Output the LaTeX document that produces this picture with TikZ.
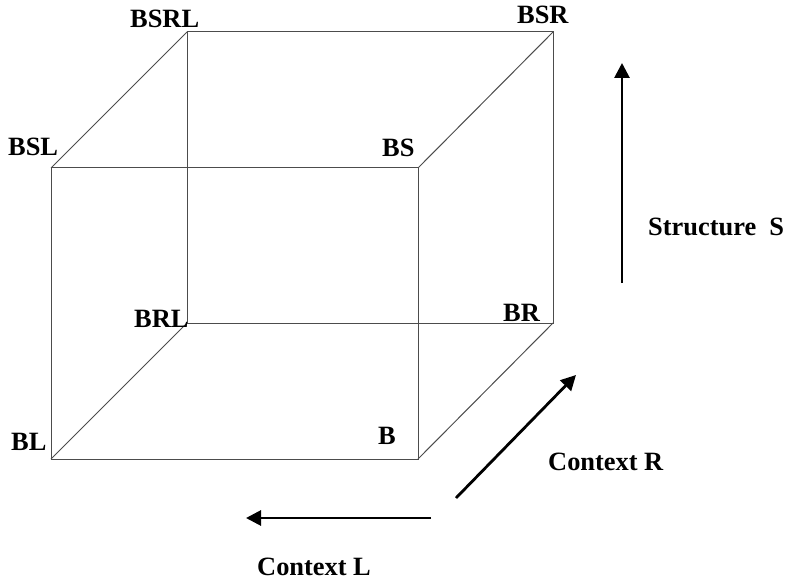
\documentclass[tikz,border=0pt]{standalone}
\usepackage{fontspec}
\setmainfont{Liberation Serif}
\usetikzlibrary{arrows.meta}
\begin{document}
\begin{tikzpicture}[x=1pt,y=-1pt,
  edge/.style={draw=black!70,line width=1pt},
  lbl/.style={anchor=base west,inner sep=0pt,font=\fontsize{26.4}{30}\selectfont\bfseries},
  axis/.style={line width=2.8pt,-{Triangle[length=15pt,width=15pt]}}]
\useasboundingbox (0,0) rectangle (785,583);
% cube corners
\coordinate (bsrl) at (187,32);
\coordinate (bsr)  at (553,32);
\coordinate (bsl)  at (51,168);
\coordinate (bs)   at (418,168);
\coordinate (brl)  at (187,323);
\coordinate (br)   at (553,323);
\coordinate (bl)   at (51,459);
\coordinate (b)    at (418,459);
% back face
\draw[edge] (bsrl) -- (bsr) -- (br) -- (brl) -- cycle;
% front face
\draw[edge] (bsl) -- (bs) -- (b) -- (bl) -- cycle;
% depth edges
\draw[edge] (bsl) -- (bsrl);
\draw[edge] (bs) -- (bsr);
\draw[edge] (bl) -- (brl);
\draw[edge] (b) -- (br);
% labels
\node[lbl] (tBSRL) at (130,28) {BSRL};
\node[lbl] (tBSR)  at (517,24) {BSR};
\node[lbl] (tBSL)  at (8,156)  {BSL};
\node[lbl] (tBS)   at (382,157) {BS};
\node[lbl] (tBRL)  at (134,327) {BRL};
\node[lbl] (tBR)   at (503,321) {BR};
\node[lbl] (tBL)   at (11,450) {BL};
\node[lbl] (tB)    at (378,444) {B};
% axes
\coordinate (s0) at (622,283);
\coordinate (s1) at (622,63);
\coordinate (r0) at (456,498);
\coordinate (r1) at (576,375);
\coordinate (l0) at (431,518);
\coordinate (l1) at (246,518);
\draw[axis] (s0) -- (s1);
\draw[axis] (r0) -- (r1);
\draw[axis] (l0) -- (l1);
\node[lbl] (tS) at (648,235) {Structure\ \ S};
\node[lbl] (tR) at (548,470) {Context R};
\node[lbl] (tL) at (257,575) {Context L};
\end{tikzpicture}
\end{document}
